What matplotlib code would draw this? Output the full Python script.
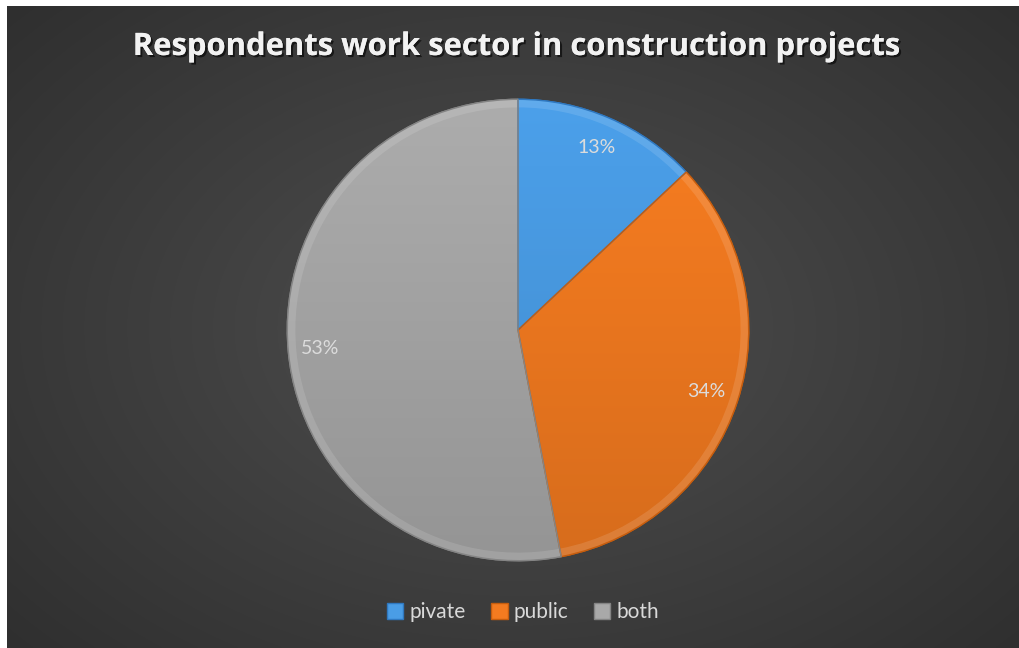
import numpy as np
import matplotlib.pyplot as plt
import matplotlib.patheffects as pe
from matplotlib.colors import to_rgb
from matplotlib.patches import Patch, Wedge

# work sector shares (percent)
sectors = ["pivate", "public", "both"]
shares = [13, 34, 53]
colors = ["#4a9de6", "#f47b20", "#a9a9a9"]
edge_colors = ["#2f78c0", "#c65d0e", "#848484"]

W, H = 1020, 648
fig = plt.figure(figsize=(W / 100, H / 100), dpi=100)
fig.patch.set_facecolor("white")

# dark radial background panel
bg = fig.add_axes([7 / W, 0, (W - 7) / W, (H - 6) / H])
yy, xx = np.mgrid[0:300, 0:470]
cx, cy = 235, 150
r = np.sqrt(((xx - cx) / 330.0) ** 2 + ((yy - cy) / 230.0) ** 2)
shade = np.clip(0.31 - 0.13 * r, 0.15, 0.31)
bg.imshow(np.dstack([shade] * 3), aspect="auto", interpolation="bilinear",
          extent=[0, 1, 0, 1])
bg.set_axis_off()

# pie
cxp, cyp, rad = 518, H - 330, 233
ax = fig.add_axes([(cxp - rad) / W, (cyp - rad) / H, 2 * rad / W, 2 * rad / H])
wedges, texts = ax.pie(
    shares, colors=colors, startangle=90, counterclock=False,
    wedgeprops=dict(linewidth=1.0))

# vertical shading inside every slice (lighter top, darker bottom)
ys = np.linspace(1, -1, 200)[:, None, None]
fac = 0.95 + 0.07 * ys
for w, c, ec in zip(wedges, colors, edge_colors):
    w.set_edgecolor(ec)
    img = np.clip(np.array(to_rgb(c))[None, None, :] * fac, 0, 1)
    img = np.repeat(img, 2, axis=1)
    im = ax.imshow(img, extent=[-1, 1, -1, 1], aspect="auto", zorder=2,
                   interpolation="bilinear")
    im.set_clip_path(w)
    # soft bevel rim along the outer edge
    rim = Wedge((0, 0), 1.0, w.theta1, w.theta2, width=0.035,
                facecolor="white", alpha=0.12, edgecolor="none", zorder=3)
    ax.add_patch(rim)
    outline = Wedge((0, 0), 1.0, w.theta1, w.theta2, facecolor="none",
                    edgecolor=ec, linewidth=1.0, zorder=4)
    ax.add_patch(outline)

# percentage labels
for w, s in zip(wedges, shares):
    ang = np.deg2rad((w.theta1 + w.theta2) / 2)
    ax.text(0.86 * np.cos(ang), 0.86 * np.sin(ang), f"{s}%", ha="center",
            va="center", color="#dcdcdc", fontsize=14, family="Lato", zorder=5)

ax.set_xlim(-1.01, 1.01)
ax.set_ylim(-1.01, 1.01)
ax.set_aspect("equal")
ax.set_axis_off()

fig.text(516 / W, 1 - 47 / H, "Respondents work sector in construction projects",
         ha="center", va="center", color="#f2f2f2", fontsize=22.3,
         fontweight="bold", family="Open Sans",
         path_effects=[pe.withSimplePatchShadow(offset=(1.5, -1.5),
                                                shadow_rgbFace="black", alpha=0.6),
                       pe.Normal()])

handles = [Patch(facecolor=c, edgecolor=e) for c, e in zip(colors, edge_colors)]
fig.legend(handles, sectors, loc="center", bbox_to_anchor=(523 / W, 1 - 612 / H),
           ncol=3, frameon=False, handlelength=0.8, handleheight=0.8,
           handletextpad=0.3, columnspacing=1.2,
           prop=dict(family="Lato", size=15), labelcolor="#d9d9d9")

fig.savefig("out.png", dpi=100, facecolor=fig.get_facecolor())
